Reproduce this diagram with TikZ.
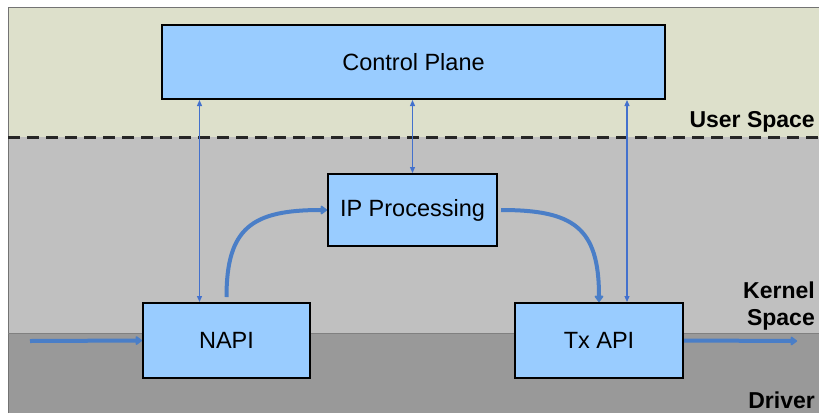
\documentclass[tikz,border=0pt]{standalone}
\usepackage{fontspec}
\setmainfont{Liberation Sans}
\usetikzlibrary{arrows.meta}
\definecolor{userbg}{RGB}{221,224,203}
\definecolor{kernelbg}{RGB}{192,192,192}
\definecolor{driverbg}{RGB}{153,153,153}
\definecolor{boxfill}{RGB}{153,204,255}
\definecolor{flowblue}{RGB}{74,126,199}

\begin{document}
\begin{tikzpicture}[x=1pt,y=-1pt]

\tikzstyle block=[draw=black, line width=2pt, fill=boxfill, inner sep=0pt, font=\fontsize{23.5}{28}\selectfont]
\tikzstyle layer=[font=\bfseries\fontsize{23}{27}\selectfont, anchor=base east, align=right, inner sep=0pt]
\tikzstyle ctrl=[flowblue!90!blue, line width=1.2pt, {Triangle[length=6pt,width=5pt]}-{Triangle[length=6pt,width=5pt]}]
\tikzstyle flow=[flowblue, line width=4pt, -{Triangle[length=7pt,width=10pt,round]}]

\useasboundingbox (0,0) rectangle (819,413);

% layers
\fill[white] (0,0) rectangle (819,413);
\fill[userbg] (8,7) rectangle (819,137);
\fill[kernelbg] (8,137) rectangle (819,333);
\fill[driverbg] (8,333) rectangle (819,413);
\draw[black!55] (8,413) -- (8,7) -- (819,7);
\draw[black!50] (8,333) -- (819,333);
\draw[black!85, line width=3pt, dash pattern=on 12pt off 7pt] (8,137) -- (819,137);

\node (us) [layer] at (815,127) {User Space};
\node (ks) [layer] at (815,325) {Kernel\\Space};
\node (dr) [layer] at (815,408) {Driver};

% boxes
\node (cp) [block, minimum width=503pt, minimum height=74pt] at (413.5,62) {Control Plane};
\node (ip) [block, minimum width=169pt, minimum height=72pt] at (412.5,210) {IP Processing};
\node (napi) [block, minimum width=167pt, minimum height=75pt] at (226.5,340.5) {NAPI};
\node (tx) [block, minimum width=168pt, minimum height=75pt] at (599,340.5) {Tx API};

\coordinate (src) at (30,341);
\coordinate (dst) at (797,341);
\coordinate (l1) at ([xshift=-27pt]napi.north);
\coordinate (r1) at ([xshift=28pt]tx.north);

% control plane links
\draw [ctrl] (cp.south -| l1) -- (l1);
\draw [ctrl] (cp.south -| ip.north) -- (ip.north);
\draw [ctrl] (cp.south -| r1) -- (r1);

% packet path
\draw [flow] (src) -- (napi.west);
\draw [flow, shorten <=5pt] (napi.north) to[out=90, in=180, looseness=1.4] (ip.west);
\draw [flow, shorten <=3pt] (ip.east) to[out=0, in=90, looseness=1.4] (tx.north);
\draw [flow] (tx.east) -- (dst);

\end{tikzpicture}
\end{document}
